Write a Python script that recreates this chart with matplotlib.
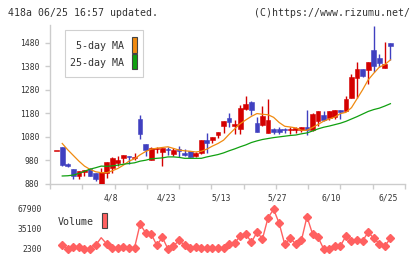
import matplotlib
matplotlib.use("Agg")
import matplotlib.pyplot as plt
from matplotlib.patches import Rectangle
import numpy as np

# ---- data (one entry per trading day) ----
opens  = [1022, 1037, 966, 942, 914, 932, 942, 925, 875, 925,
          946, 970, 991, 998, 992, 1155, 1049, 984, 1027, 1016,
          1028, 1007, 1028, 1012, 1021, 1000, 1010, 1066, 1066, 1087,
          1125, 1161, 1126, 1112, 1197, 1228, 1139, 1129, 1097, 1115,
          1115, 1115, 1108, 1110, 1111, 1120, 1108, 1146, 1172, 1160,
          1164, 1193, 1189, 1246, 1329, 1369, 1366, 1450, 1414, 1372,
          1479]
highs  = [1022, 1037, 970, 944, 937, 940, 949, 927, 949, 975,
          995, 998, 1003, 999, 1010, 1172, 1050, 1038, 1038, 1032,
          1038, 1031, 1042, 1028, 1022, 1016, 1066, 1097, 1081, 1102,
          1147, 1181, 1150, 1214, 1252, 1232, 1164, 1210, 1242, 1116,
          1122, 1116, 1122, 1122, 1121, 1193, 1180, 1188, 1188, 1188,
          1193, 1194, 1252, 1345, 1400, 1369, 1400, 1552, 1432, 1481,
          1479]
lows   = [1022, 956, 953, 900, 900, 914, 912, 893, 870, 907,
          925, 956, 970, 967, 981, 1069, 1000, 982, 1012, 956,
          1002, 997, 993, 1000, 995, 996, 1008, 1012, 1055, 1077,
          1097, 1122, 1094, 1094, 1196, 1172, 1100, 1128, 1096, 1094,
          1094, 1097, 1094, 1097, 1101, 1087, 1107, 1128, 1149, 1153,
          1155, 1155, 1189, 1243, 1246, 1333, 1305, 1357, 1376, 1372,
          1408]
closes = [1022, 962, 958, 914, 935, 939, 914, 901, 929, 972,
          991, 984, 1002, 994, 994, 1092, 1024, 1034, 1034, 1031,
          1023, 1026, 1022, 1002, 996, 1010, 1066, 1055, 1080, 1101,
          1146, 1143, 1133, 1202, 1221, 1193, 1101, 1167, 1150, 1101,
          1101, 1108, 1115, 1117, 1120, 1108, 1179, 1188, 1150, 1188,
          1193, 1186, 1240, 1333, 1369, 1338, 1400, 1383, 1393, 1390,
          1467]

# moving averages and volume start on the 2nd day
ma5 = [1052, 1025, 1001, 977, 956, 942, 932, 928, 928, 936,
       946, 960, 977, 987, 1004, 1018, 1028, 1032, 1035, 1038,
       1031, 1024, 1021, 1019, 1016, 1019, 1028, 1041, 1052, 1066,
       1091, 1114, 1136, 1152, 1167, 1179, 1176, 1174, 1163, 1141,
       1125, 1122, 1118, 1108, 1108, 1120, 1133, 1147, 1156, 1164,
       1179, 1184, 1204, 1242, 1280, 1322, 1350, 1376, 1387, 1407]
ma25 = [914, 915, 918, 925, 934, 943, 949, 956, 955, 957,
        960, 964, 967, 970, 977, 981, 987, 989, 991, 995,
        995, 993, 989, 989, 989, 989, 995, 1000, 1005, 1012,
        1021, 1029, 1038, 1046, 1056, 1063, 1069, 1073, 1077, 1080,
        1083, 1086, 1088, 1093, 1097, 1105, 1114, 1121, 1126, 1132,
        1138, 1146, 1156, 1166, 1177, 1188, 1196, 1202, 1211, 1221]
volume = [8400, 2000, 6100, 6100, 2300, 2800, 8400, 20800, 10500, 3900,
          4400, 6100, 3900, 4400, 43300, 28500, 26900, 8400, 21500, 2300,
          7200, 16500, 8400, 3400, 6100, 3400, 4400, 3400, 4400, 4400,
          10000, 11600, 24100, 27400, 13300, 29700, 19200, 53600, 67400, 44400,
          10000, 19800, 10500, 16500, 55300, 26900, 21500, 2300, 2300, 7200,
          7200, 23600, 15400, 17100, 15400, 30200, 19800, 11000, 7200, 19800]

price_ticks = [880, 980, 1080, 1180, 1280, 1380, 1480]
vol_ticks = [2300, 35100, 67900]
date_labels = ['4/8', '4/23', '5/13', '5/27', '6/10', '6/25']
date_pos = [10.84, 20.76, 30.5, 40.57, 50.45, 60.64]

RED = '#d40000'
BLUE = '#4040c0'
ORANGE = '#f08a10'
GREEN = '#10a010'
VOLC = '#ff6060'
GRID = '#cccccc'
TXT = '#333333'
MONO = 'DejaVu Sans Mono'

W, H = 420, 259


def fx(x, y):
    return (x / W, 1 - y / H)


fig = plt.figure(figsize=(4.2, 2.59), dpi=100)

#~~~~~~~~~~~~~~~ price panel ~~~~~~~~~~~~~~~
ax = fig.add_axes([50 / W, (H - 184) / H, 355 / W, 159 / H])
n = len(opens)
x = np.arange(1, n + 1)
o = np.array(opens); c = np.array(closes)
up = c >= o
cols = np.where(up, RED, BLUE)

ax.vlines(x[1:], np.array(lows)[1:], np.array(highs)[1:], colors=cols[1:], lw=1, zorder=2)
bot = np.minimum(o, c)
hgt = np.maximum(np.abs(c - o), 3)
ax.bar(x, hgt, bottom=bot, width=0.85, color=cols, edgecolor=cols, lw=0.4, zorder=3)

xm = x[1:]
ax.plot(xm, ma5, color=ORANGE, lw=0.9, zorder=4)
ax.plot(xm, ma25, color=GREEN, lw=0.9, zorder=4)

ax.set_xlim(-0.2, 63.62)
ax.set_ylim(880, 1555)
ax.set_yticks(price_ticks)
ax.set_yticklabels([str(t) for t in price_ticks], fontsize=5.8, family=MONO, color=TXT)
ax.set_xticks(np.linspace(-0.2, 63.62, 12))
ax.set_xticklabels([])
ax.set_xticks(date_pos, minor=True)
ax.set_xticklabels(date_labels, minor=True, fontsize=5.8, family=MONO, color=TXT)
ax.tick_params(axis='y', length=3.6, width=1, color=GRID, pad=4)
ax.tick_params(axis='x', which='major', length=3.6, width=1, color=GRID)
ax.tick_params(axis='x', which='minor', length=0, pad=7)
for s in ['top', 'right']:
    ax.spines[s].set_visible(False)
for s in ['left', 'bottom']:
    ax.spines[s].set_color(GRID)
    ax.spines[s].set_linewidth(1)

#~~~~~~~~~~~~~~~ volume panel ~~~~~~~~~~~~~~~
axv = fig.add_axes([50 / W, (H - 253) / H, 355 / W, 48 / H], sharex=ax)
mk = [i for i in range(len(volume)) if i != 7]
axv.plot(xm, volume, color=VOLC, lw=1, marker='D', ms=4, mec=VOLC, mfc=VOLC,
         markevery=mk)
axv.set_ylim(2300 - 4 * 1640, 67900 + 4 * 1640)
axv.set_yticks(vol_ticks)
axv.set_yticklabels([str(t) for t in vol_ticks], fontsize=5.8, family=MONO, color=TXT)
axv.tick_params(axis='y', length=0, pad=6)
axv.tick_params(axis='x', which='both', length=0, labelbottom=False)
for s in axv.spines.values():
    s.set_visible(False)

#~~~~~~~~~~~~~~~ legends and header text ~~~~~~~~~~~~~~~
def rect(x0, y0, x1, y1, **kw):
    fig.add_artist(Rectangle(fx(x0, y1), (x1 - x0) / W, (y1 - y0) / H,
                             transform=fig.transFigure, **kw))

rect(65, 30, 143, 77, fc='white', ec='#d0d0d0', lw=0.8)
fig.text(*fx(124, 46), '5-day MA', ha='right', va='center', fontsize=7.2, family=MONO, color=TXT)
fig.text(*fx(124, 63), '25-day MA', ha='right', va='center', fontsize=7.2, family=MONO, color=TXT)
rect(131.7, 37, 137.3, 52.7, fc=ORANGE, ec='#444444', lw=0.8)
rect(131.7, 54, 137.3, 69, fc=GREEN, ec='#444444', lw=0.8)

fig.text(*fx(58, 222), 'Volume', ha='left', va='center', fontsize=7.2, family=MONO, color=TXT)
rect(101.7, 213, 107.3, 228, fc=VOLC, ec='#444444', lw=0.8)

fig.text(*fx(8, 13), '418a 06/25 16:57 updated.', ha='left', va='center',
         fontsize=7.1, family=MONO, color=TXT)
fig.text(*fx(410, 13), '(C)https://www.rizumu.net/', ha='right', va='center',
         fontsize=7.1, family=MONO, color=TXT)

fig.savefig('out.png', dpi=100)
